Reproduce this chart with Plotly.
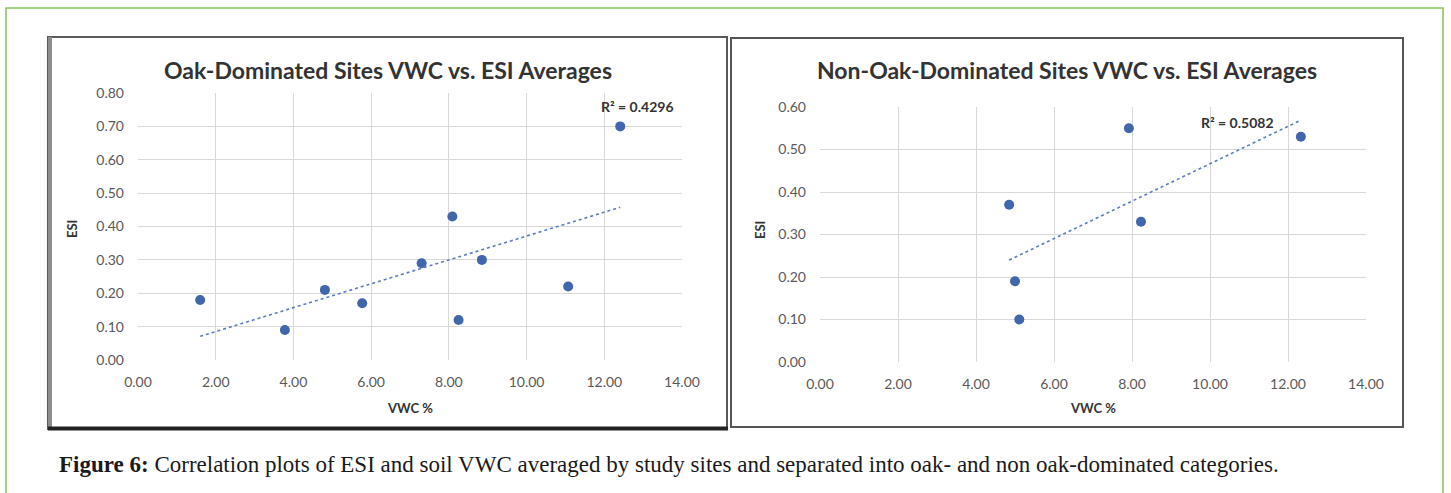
import numpy as np
import plotly.graph_objects as go

# ---- data ----
oak_vwc = [1.60, 3.78, 4.81, 5.77, 7.30, 8.09, 8.25, 8.85, 11.07, 12.41]
oak_esi = [0.18, 0.09, 0.21, 0.17, 0.29, 0.43, 0.12, 0.30, 0.22, 0.70]
non_vwc = [4.85, 5.00, 5.11, 7.92, 8.23, 12.33]
non_esi = [0.37, 0.19, 0.10, 0.55, 0.33, 0.53]
oak_r2_text = "R² = 0.4296"
non_r2_text = "R² = 0.5082"
oak_title = "Oak-Dominated Sites VWC vs. ESI Averages"
non_title = "Non-Oak-Dominated Sites VWC vs. ESI Averages"
x_title = "VWC %"
y_title = "ESI"
caption_bold = "Figure 6:"
caption_text = (" Correlation plots of ESI and soil VWC averaged by study sites and "
                "separated into oak- and non oak-dominated categories.")
x_ticks = [0, 2, 4, 6, 8, 10, 12, 14]

W, H = 1451, 493
def px(x):
    return x / W
def py(y):
    return 1 - y / H

MARKER = "#4266AC"
TREND = "#5A7CC0"
GRID = "#D9D9D9"
TICK = "#595959"

fig = go.Figure()

def add_panel(xs, ys, xa, ya):
    fig.add_trace(go.Scatter(x=xs, y=ys, mode="markers", xaxis=xa, yaxis=ya,
                             marker=dict(color=MARKER, size=10), showlegend=False,
                             hoverinfo="x+y"))
    k, b = np.polyfit(xs, ys, 1)
    xt = [min(xs), max(xs)]
    fig.add_trace(go.Scatter(x=xt, y=[k * v + b for v in xt], mode="lines",
                             xaxis=xa, yaxis=ya, showlegend=False,
                             line=dict(color=TREND, width=1.6, dash="dot"),
                             hoverinfo="skip"))

add_panel(oak_vwc, oak_esi, "x", "y")
add_panel(non_vwc, non_esi, "x2", "y2")

axis_common = dict(showgrid=True, gridcolor=GRID, gridwidth=1, zeroline=False,
                   showline=False, ticks="", tickformat=".2f", automargin=False,
                   tickfont=dict(family="Lato", size=14, color=TICK))

fig.update_layout(
    width=W, height=H, margin=dict(l=0, r=0, t=0, b=0, pad=0, autoexpand=False),
    paper_bgcolor="white", plot_bgcolor="white",
    xaxis=dict(domain=[px(138), px(682)], range=[0, 14], tickvals=x_ticks,
               anchor="y", ticklabelstandoff=12, **axis_common),
    yaxis=dict(domain=[py(360), py(93)], range=[0, 0.8], dtick=0.1,
               anchor="x", ticklabelstandoff=13, **axis_common),
    xaxis2=dict(domain=[px(820), px(1366)], range=[0, 14], tickvals=x_ticks,
                anchor="y2", ticklabelstandoff=12, **axis_common),
    yaxis2=dict(domain=[py(362), py(107)], range=[0, 0.6], dtick=0.1,
                anchor="x2", ticklabelstandoff=13, **axis_common),
)

shapes = [
    # outer green frame
    dict(type="rect", xref="paper", yref="paper", x0=px(6), x1=px(1443), y0=py(497), y1=py(8),
         line=dict(color="#86C45E", width=1.5), fillcolor="rgba(0,0,0,0)", layer="below"),
    # left panel
    dict(type="rect", xref="paper", yref="paper", x0=px(48), x1=px(727), y0=py(429), y1=py(37),
         line=dict(color="#5A5A5A", width=2), fillcolor="white", layer="below"),
    dict(type="line", xref="paper", yref="paper", x0=px(50), x1=px(50), y0=py(430), y1=py(37),
         line=dict(color="#8C8C8C", width=4), layer="below"),
    dict(type="line", xref="paper", yref="paper", x0=px(48), x1=px(728), y0=py(428.5), y1=py(428.5),
         line=dict(color="#222222", width=4), layer="below"),
    # right panel
    dict(type="rect", xref="paper", yref="paper", x0=px(731), x1=px(1403), y0=py(427), y1=py(38),
         line=dict(color="#555555", width=2), fillcolor="white", layer="below"),
]
fig.update_layout(shapes=shapes)

ann = []
def text(x, y, s, size, bold=False, color="#333333", family="Lato", angle=0, xanchor="center"):
    ann.append(dict(x=px(x), y=py(y), xref="paper", yref="paper", text=(f"<b>{s}</b>" if bold else s),
                    showarrow=False, xanchor=xanchor, yanchor="middle", textangle=angle,
                    font=dict(size=size, color=color, family=family)))

text(388, 70, oak_title, 23, bold=True, color="#333333")
text(1067, 70, non_title, 23, bold=True, color="#333333")
text(72, 229, y_title, 13, bold=True, color="#333333", angle=-90)
text(760, 230, y_title, 13, bold=True, color="#333333", angle=-90)
text(410, 408, x_title, 13, bold=True, color="#333333")
text(1093, 408, x_title, 13, bold=True, color="#333333")
text(637, 107, oak_r2_text, 14, bold=True, color="#333333")
text(1237, 122, non_r2_text, 14, bold=True, color="#333333")
ann.append(dict(x=px(57), y=py(464), xref="paper", yref="paper", showarrow=False,
                xanchor="left", yanchor="middle",
                text=f"<b>{caption_bold}</b>{caption_text}",
                font=dict(size=23, color="#1a1a1a", family="Liberation Serif")))
fig.update_layout(annotations=ann)

fig.write_html("out.html", config={"displayModeBar": False},
               post_script="document.body.style.margin='0';document.body.style.overflow='hidden';")
